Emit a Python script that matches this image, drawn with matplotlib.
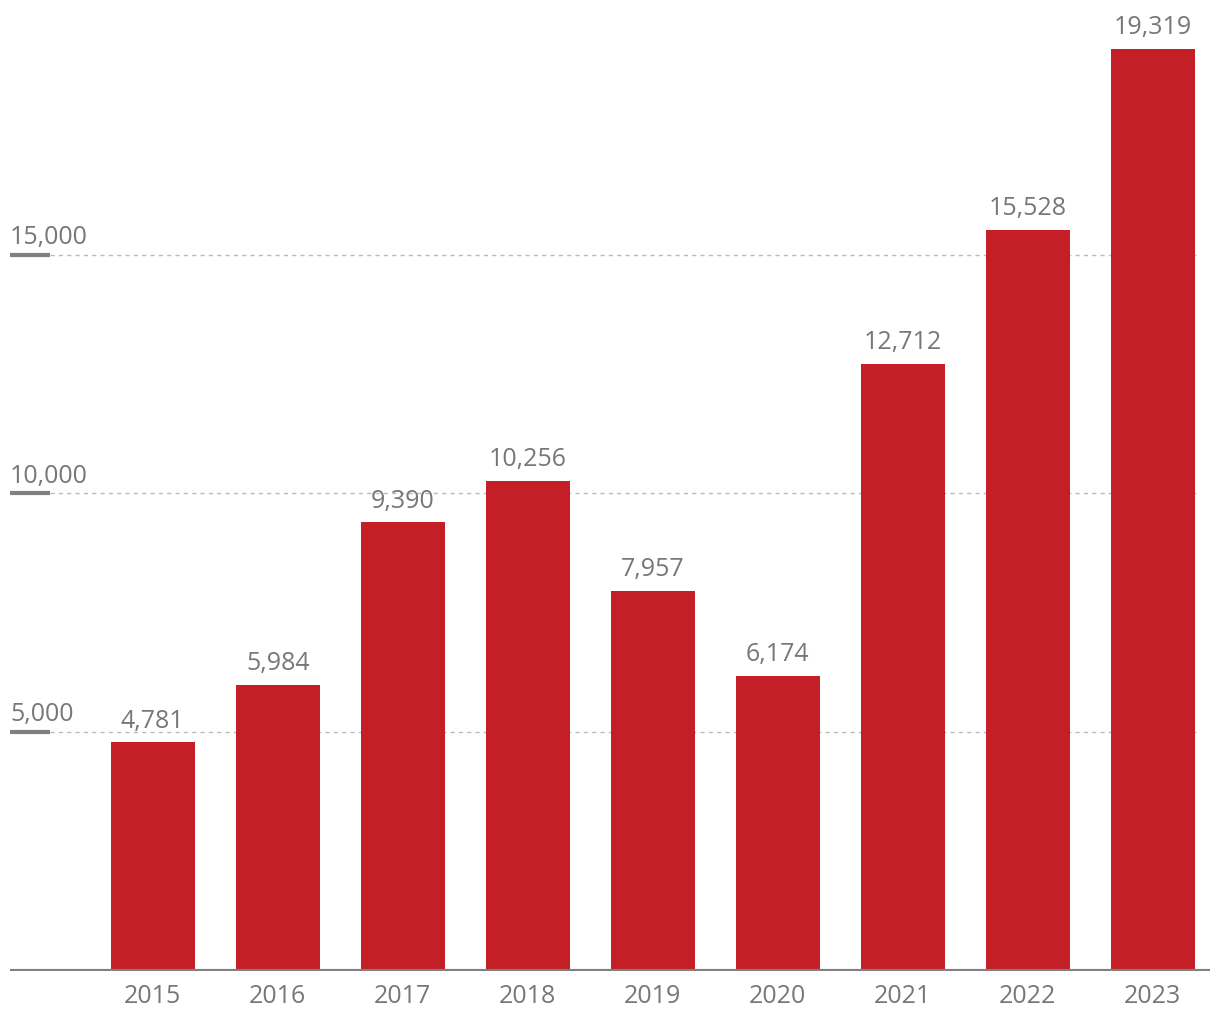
import matplotlib.pyplot as plt

# ── Données ──
years  = ["2015", "2016", "2017", "2018", "2019", "2020", "2021", "2022", "2023"]
values = [4781, 5984, 9390, 10256, 7957, 6174, 12712, 15528, 19319]
yticks = [5000, 10000, 15000]

plt.rcParams["font.family"] = ["Open Sans", "DejaVu Sans"]
BAR   = "#C41F26"
GREY  = "#777777"
GRID  = "#b4bcc4"

fig = plt.figure(figsize=(12.2, 10.2), dpi=100)
ax = fig.add_axes([10/1220, 48.5/1020, 1200/1220, 959/1020])

x = list(range(len(years)))
bars = ax.bar(x, values, width=0.672, color=BAR, zorder=2)

ax.set_xlim(-1.142, 8.458)
ax.set_ylim(0, 20100)

# ── Grille + repères à gauche ──
for t in yticks:
    ax.plot([-0.82, 8.36], [t, t], color=GRID, lw=1, ls=(0, (3, 3)), zorder=1)
    ax.plot([-1.142, -0.82], [t, t], color="#808080", lw=3, solid_capstyle="butt", zorder=3)
    ax.annotate(f"{t:,}", (-1.142, t), xytext=(0, 4), textcoords="offset points",
                ha="left", va="bottom", fontsize=18, color=GREY)

# ── Valeurs au-dessus des barres ──
for bar, val in zip(bars, values):
    ax.annotate(f"{val:,}", (bar.get_x() + bar.get_width()/2, bar.get_height()),
                xytext=(0, 7), textcoords="offset points",
                ha="center", va="bottom", fontsize=18, color=GREY)

# ── Axe x ──
ax.axhline(0, color="#808080", lw=3, zorder=4)
ax.set_xticks(x)
ax.set_xticklabels(years, fontsize=18, color=GREY)
ax.tick_params(axis="x", length=0, pad=9)
ax.set_yticks([])
for s in ax.spines.values():
    s.set_visible(False)

plt.savefig("out.png", dpi=100)
